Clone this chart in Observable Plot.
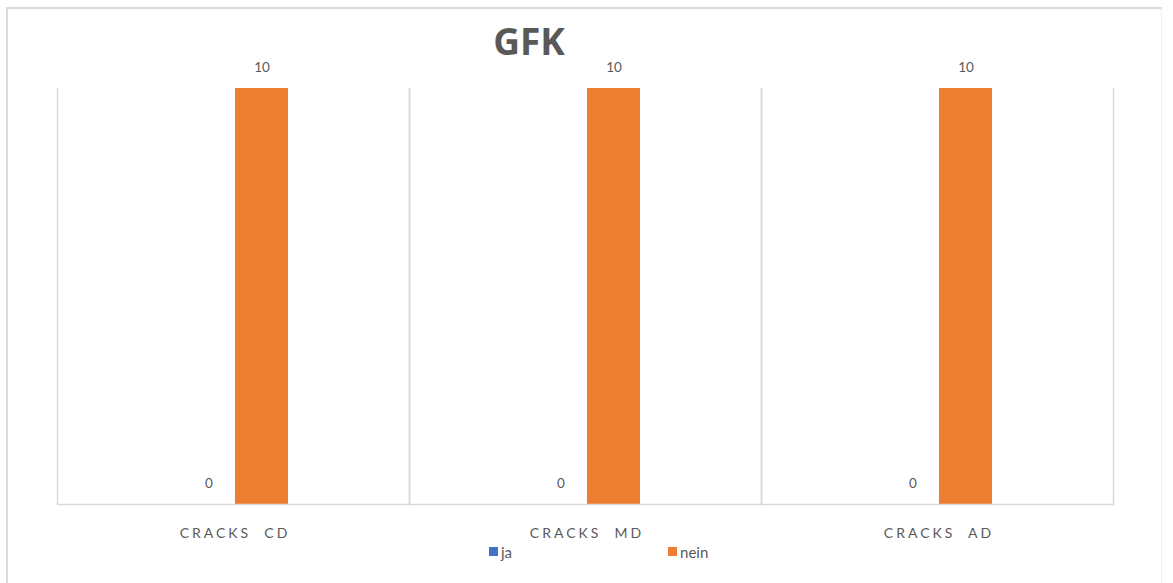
<!DOCTYPE html>
<html>
<head>
<meta charset="utf-8">
<script src="https://cdn.jsdelivr.net/npm/d3@7"></script>
<script src="https://cdn.jsdelivr.net/npm/@observablehq/plot@0.6"></script>
<style>
  html, body { margin: 0; padding: 0; background: #fff; }
  #stage { position: relative; width: 1173px; height: 583px; overflow: hidden; font-family: Lato, "Open Sans", sans-serif; }
  #border { position: absolute; left: 6px; top: 7px; width: 1153px; height: 620px;
            border-left: 2px solid #dadada; border-top: 2px solid #dadada; border-right: 1px solid #f0f0f0; }
  #title { position: absolute; left: 429px; width: 200px; top: 19px; text-align: center;
           font-family: "Open Sans", Lato, sans-serif; font-weight: 700; font-size: 37px; color: #595959; line-height: 44px; }
  #chart { position: absolute; left: 0; top: 0; }
  #legend { position: absolute; left: 489px; top: 535px; }
  .lg-swatches { font-family: Lato, sans-serif; font-size: 15px; color: #595959; }
  .lg-swatch { margin-right: 156px !important; }
  .lg-swatch > svg { margin-right: 3px !important; }
</style>
</head>
<body>
<div id="stage">
  <div id="border"></div>
  <div id="chart"></div>
  <div id="title">GFK</div>
  <div id="legend"></div>
</div>
<script>
// Counts of crack findings per measurement site
const categories = ["CRACKS  CD", "CRACKS  MD", "CRACKS  AD"];
const seriesNames = ["ja", "nein"];
const jaValues = [0, 0, 0];
const neinValues = [10, 10, 10];
const seriesColors = ["#4472C4", "#ED7D31"];

const rows = categories.flatMap((c, i) => [
  {category: c, series: "ja", value: jaValues[i]},
  {category: c, series: "nein", value: neinValues[i]}
]);

const grid = "#d9d9d9";
const labelColor = "#595959";

const chart = Plot.plot({
  width: 1173,
  height: 560,
  marginLeft: 57,
  marginRight: 60,
  marginTop: 88,
  marginBottom: 56,
  style: {fontFamily: "Lato, 'Open Sans', sans-serif", background: "transparent"},
  facet: {data: rows, x: "category"},
  fx: {domain: categories, padding: 0, axis: null, label: null},
  x: {domain: seriesNames, paddingInner: 0, paddingOuter: 2.3, align: 0.508, axis: null},
  y: {domain: [0, 10], axis: null},
  color: {domain: seriesNames, range: seriesColors},
  marks: [
    Plot.frame({anchor: "left", stroke: grid, strokeWidth: 1.5}),
    Plot.frame({anchor: "right", stroke: grid, strokeWidth: 1.5}),
    Plot.barY(rows, {x: "series", y: "value", fill: "series", inset: 0}),
    Plot.ruleY([0], {stroke: grid, strokeWidth: 1.5}),
    Plot.text(rows, {x: "series", y: "value", text: d => String(d.value), dy: -21,
                     fill: labelColor, fontSize: 13.5}),
    Plot.text(rows, {filter: d => d.series === "ja", text: "category", frameAnchor: "bottom",
                     dy: 33, dx: 1.5, fill: labelColor, fontSize: 14})
  ]
});

// spaced-out capitals for the category labels
d3.select(chart).selectAll("text")
  .filter(function() { return categories.includes(this.textContent); })
  .style("letter-spacing", "3px");

document.getElementById("chart").appendChild(chart);

const legend = Plot.legend({
  color: {domain: seriesNames, range: seriesColors},
  swatchSize: 9,
  className: "lg"
});
document.getElementById("legend").appendChild(legend);
</script>
</body>
</html>
